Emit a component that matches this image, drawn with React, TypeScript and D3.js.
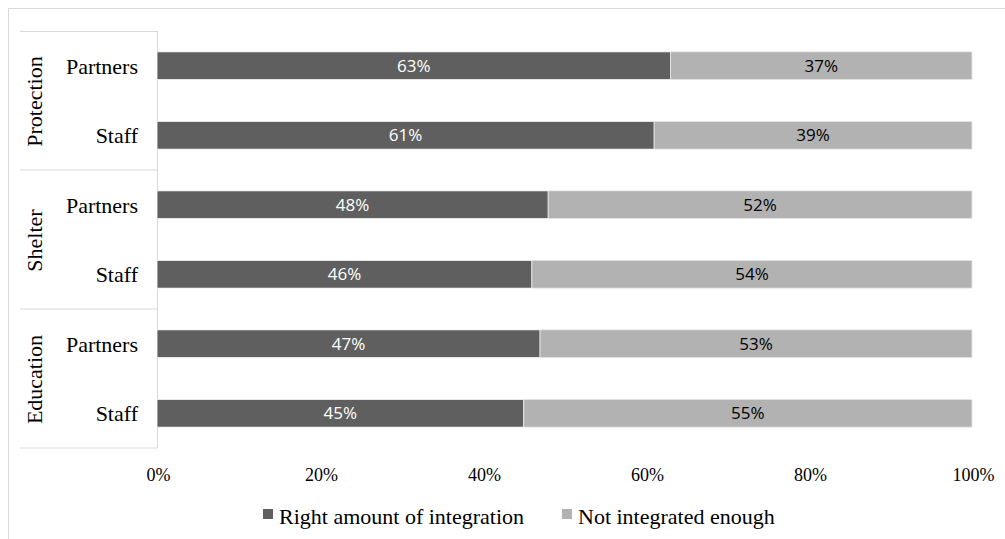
import * as d3 from "d3";

const groups = ["Protection", "Shelter", "Education"];
const roles = ["Partners", "Staff"];
const rightAmount = [63, 61, 48, 46, 47, 45];
const notEnough = [37, 39, 52, 54, 53, 55];
const xTicks = [0, 20, 40, 60, 80, 100];
const seriesNames = ["Right amount of integration", "Not integrated enough"];

const W = 1005;
const H = 539;
const DARK = "#5f5f5f";
const LIGHT = "#b2b2b2";
const SERIF = "Liberation Serif";
const SANS = "Open Sans";

export default function App() {
  const rows = groups.flatMap((g) => roles.map((r) => `${g}|${r}`));
  const x = d3.scaleLinear().domain([0, 100]).range([157, 972]);
  const y = d3.scaleBand().domain(rows).range([31, 448]).paddingInner(0.6).paddingOuter(0.3);
  const gScale = d3.scaleBand().domain(groups).range([31, 448]);
  const legendX = [263, 562];
  const legendColors = [DARK, LIGHT];

  return (
    <svg width={W} height={H} style={{ position: "absolute", left: 0, top: 0 }}>
      <rect x={0} y={0} width={W} height={H} fill="#fff" />
      <rect x={8.5} y={8.5} width={W + 20} height={H + 20} fill="none" stroke="#d9d9d9" />
      {/* category grid */}
      <line x1={20} x2={157} y1={31.5} y2={31.5} stroke="#d9d9d9" />
      <line x1={157.5} x2={157.5} y1={31} y2={448} stroke="#d9d9d9" />
      {groups.map((g) => (
        <line key={g} x1={20} x2={157} y1={gScale(g)! + gScale.bandwidth()} y2={gScale(g)! + gScale.bandwidth()} stroke="#d9d9d9" />
      ))}
      {groups.map((g) => {
        const cy = gScale(g)! + gScale.bandwidth() / 2;
        return (
          <text key={g} transform={`translate(42,${cy + 1}) rotate(-90)`} textAnchor="middle" fontFamily={SERIF} fontSize={22} fill="#000">
            {g}
          </text>
        );
      })}
      {rows.map((r, i) => {
        const yy = y(r)!;
        const bw = y.bandwidth();
        const role = r.split("|")[1];
        const a = rightAmount[i];
        const b = notEnough[i];
        return (
          <g key={r}>
            <text x={138} y={yy + bw / 2 + 8} textAnchor="end" fontFamily={SERIF} fontSize={22} fill="#000">
              {role}
            </text>
            <rect x={x(0)} y={yy} width={x(a) - x(0)} height={bw} fill={DARK} stroke="#fff" strokeWidth={0.8} />
            <rect x={x(a)} y={yy} width={x(a + b) - x(a)} height={bw} fill={LIGHT} stroke="#e8e8e8" strokeWidth={0.8} />
            <text x={(x(0) + x(a)) / 2} y={yy + bw / 2} dy="0.36em" textAnchor="middle" fontFamily={SANS} fontSize={17} fill="#fff">
              {a}%
            </text>
            <text x={(x(a) + x(a + b)) / 2} y={yy + bw / 2} dy="0.36em" textAnchor="middle" fontFamily={SANS} fontSize={17} fill="#000">
              {b}%
            </text>
          </g>
        );
      })}
      {xTicks.map((t) => (
        <text key={t} x={x(t) + 1.5} y={481} textAnchor="middle" fontFamily={SERIF} fontSize={18} fill="#000">
          {t}%
        </text>
      ))}
      <g fontFamily={SERIF} fontSize={22} fill="#000">
        {seriesNames.map((name, i) => (
          <g key={name}>
            <rect x={legendX[i]} y={509} width={10} height={10} fill={legendColors[i]} />
            <text x={legendX[i] + 16} y={524}>{name}</text>
          </g>
        ))}
      </g>
    </svg>
  );
}
